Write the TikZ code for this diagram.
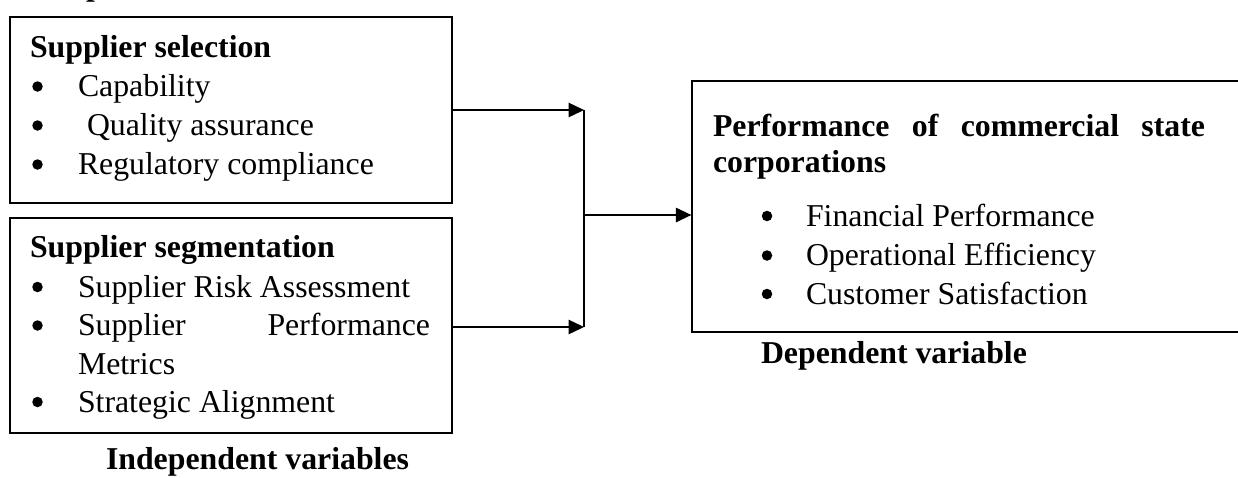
\documentclass[tikz,border=0pt]{standalone}
\usepackage{fontspec}
\setmainfont{Liberation Serif}
\usetikzlibrary{arrows.meta}
\tikzset{
  frame/.style={draw, line width=1.3pt, rectangle, inner sep=0pt},
  txt/.style={anchor=base west, inner sep=0pt, outer sep=0pt},
  bul/.style={circle, fill, inner sep=0pt, minimum size=10.5pt},
  link/.style={line width=1.3pt},
  arr/.style={line width=1.3pt, -{Triangle[length=15.5pt, width=14.5pt]}}
}
\begin{document}
\begin{tikzpicture}[x=1pt, y=-1pt, font=\fontsize{31.8}{38.5}\selectfont]
\useasboundingbox (0,0) rectangle (1238,477);

% boxes
\node[frame, minimum width=442pt, minimum height=186pt] (b1) at (231,110) {};
\node[frame, minimum width=442pt, minimum height=215pt] (b2) at (231,325.5) {};
\node[frame, minimum width=560pt, minimum height=251pt] (b3) at (972,206.5) {};

% fragment of a heading above the picture
\node[txt] (top) at (86,-4.2) {\bfseries p};

% supplier selection
\node[txt] (h1) at (30,57) {\bfseries Supplier selection};
\node[bul] (d11) at (37.5,86.5) {};
\node[txt] (t11) at (78,96.5) {Capability};
\node[bul] (d12) at (37.5,125.5) {};
\node[txt] (t12) at (87,135.5) {Quality assurance};
\node[bul] (d13) at (37.5,164.5) {};
\node[txt] (t13) at (78,174.5) {Regulatory compliance};

% supplier segmentation
\node[txt] (h2) at (30,257) {\bfseries Supplier segmentation};
\node[bul] (d21) at (37.5,287) {};
\node[txt] (t21) at (78,297) {Supplier Risk Assessment};
\node[bul] (d22) at (37.5,325.5) {};
\node[txt] (t22) at (78,335.5) {\makebox[352pt][s]{Supplier\hfill Performance}};
\node[txt] (t22b) at (78,374) {Metrics};
\node[bul] (d23) at (37.5,402) {};
\node[txt] (t23) at (78,412) {Strategic Alignment};

\node[txt] (ind) at (106,469.5) {\bfseries Independent variables};

% performance
\node[txt] (h3) at (713,136) {\bfseries\makebox[492pt][s]{Performance of commercial state}};
\node[txt] (h3b) at (713,172.5) {\bfseries corporations};
\node[bul] (d31) at (767,216) {};
\node[txt] (t31) at (806,226) {Financial Performance};
\node[bul] (d32) at (767,255.5) {};
\node[txt] (t32) at (806,265.5) {Operational Efficiency};
\node[bul] (d33) at (767,294) {};
\node[txt] (t33) at (806,304) {Customer Satisfaction};

\node[txt] (dep) at (761,363) {\bfseries Dependent variable};

% connectors
\coordinate (j1) at (584,110);
\coordinate (j2) at (584,327);
\coordinate (jm) at (584,215);
\draw[link] (j1) -- (j2);
\draw[arr] (b1.east) -- (j1);
\draw[arr] (b2.east |- j2) -- (j2);
\draw[arr] (jm) -- (b3.west |- jm);
\end{tikzpicture}
\end{document}
